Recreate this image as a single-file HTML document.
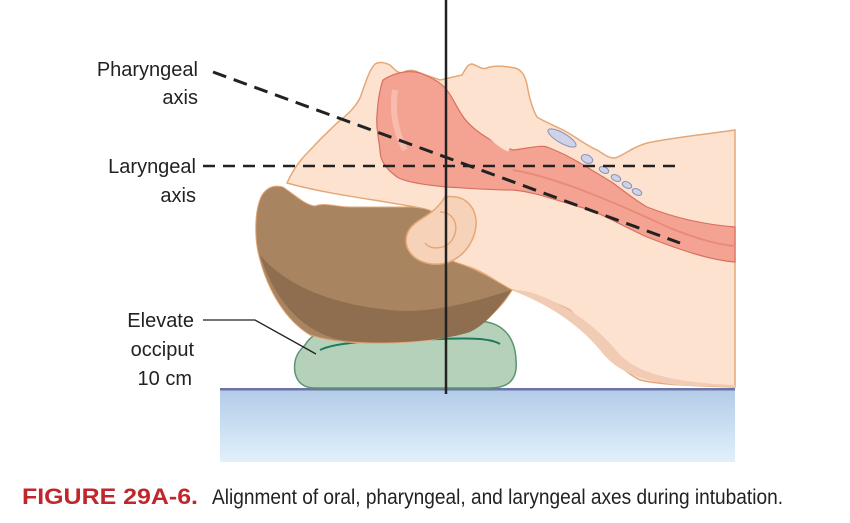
<!DOCTYPE html>
<html><head><meta charset="utf-8"><style>
html,body{margin:0;padding:0;background:#fff;width:850px;height:523px;overflow:hidden}
svg{display:block}
text{font-family:"Liberation Sans",sans-serif}
</style></head><body>
<svg width="850" height="523" viewBox="0 0 850 523" xmlns="http://www.w3.org/2000/svg">
<defs>
<linearGradient id="tb" x1="0" y1="0" x2="0" y2="1"><stop offset="0" stop-color="#b2cbe8"/><stop offset="1" stop-color="#e0f1fb"/></linearGradient>
</defs>
<!-- table -->
<rect x="220" y="389" width="515" height="73" fill="url(#tb)"/>
<rect x="220" y="388" width="515" height="2.5" fill="#6b72a8"/>
<!-- body / skin -->
<path d="M287,183 C295,165 305,155 313,147 C322,137 330,130 337,123 C347,115 355,108 360,98 C365,85 368,72 375,64 C380,61 386,63 390,65 C395,70 398,73 402,73 C407,70 412,69 420,73 L440,80 L462,75 C466,68 468,64 472,64 C478,66 482,70 487,68 C495,65 505,66 515,68 C522,70 526,76 528,90 C530,100 533,110 537,117 C545,122 555,126 563,130 C575,136 585,145 597,150 C605,155 608,158 615,158 C625,155 630,148 647,143 C670,138 700,135 735,130 L735,387 C700,386 660,385 640,380 C610,365 590,330 570,310 C545,297 520,292 505,288 C490,275 470,265 450,262 C440,230 430,212 420,208 C380,200 330,195 287,183 Z" fill="#fde3cf" stroke="#e4a878" stroke-width="1.5"/>
<path d="M505,288 C540,300 575,320 600,350 C615,370 640,383 690,386 L735,387 L735,385 C680,383 640,375 620,355 C600,330 570,305 530,292 Z" fill="#f1cbb3"/>
<!-- pillow -->
<path d="M305,345 C315,328 340,323 380,325 L470,322 C500,318 515,335 516,360 C518,380 508,388 490,388 L315,388 C298,388 293,375 295,362 C296,355 300,350 305,345 Z" fill="#b6d1b9" stroke="#5a9470" stroke-width="1.5"/>
<path d="M320,350 C340,340 400,340 440,339 C470,338 490,338 500,344" fill="none" stroke="#1f7a5f" stroke-width="2"/>
<!-- hair -->
<path d="M262,195 C268,186 276,185 283,187 C295,195 305,205 315,206 C325,202 335,207 350,207 C370,207 395,207 413,207 C425,208 432,210 437,215 C440,240 445,258 455,262 C475,268 495,280 512,290 C498,315 470,335 430,340 C390,345 340,345 310,335 C285,320 268,290 260,260 C254,240 254,210 262,195 Z" fill="#a98461" stroke="#e4a878" stroke-width="1"/>
<path d="M260,255 C275,300 300,330 340,340 C380,345 440,342 470,332 C490,322 500,305 512,290 C480,300 430,315 390,310 C340,305 290,290 260,255 Z" fill="#8e6e4e"/>
<!-- ear -->
<path d="M445,197 C468,193 480,212 475,232 C470,250 455,266 432,264 C410,261 402,245 408,232 C415,218 432,218 445,197 Z" fill="#f6d2b8" stroke="#e4a878" stroke-width="1.5"/>
<path d="M440,212 C455,212 460,228 452,240 C445,250 430,250 425,243" fill="none" stroke="#e4a878" stroke-width="1.5"/>
<!-- airway -->
<path d="M383,80 C395,72 410,70 420,73 C432,78 440,82 445,88 C452,95 455,105 462,115 C470,128 490,142 513,150 C530,148 540,145 547,147 C560,152 570,157 580,163 C595,172 605,178 613,183 C625,192 635,200 647,207 C680,220 710,225 735,227 L735,262 C710,260 680,250 647,237 C620,225 600,212 580,207 C555,200 535,192 513,190 C490,190 465,188 447,187 C425,185 405,182 397,177 C385,168 380,160 380,150 C378,135 376,125 377,115 C378,100 380,88 383,80 Z" fill="#f4a392" stroke="#d9705f" stroke-width="1.2"/>
<path d="M467,83 C470,100 480,120 490,132 C498,140 505,145 510,147" fill="none" stroke="#fde3cf" stroke-width="10"/>
<path d="M395,90 C392,110 395,130 405,150" fill="none" stroke="#f8bcae" stroke-width="6"/>
<path d="M513,170 C560,178 620,205 670,228 C700,240 720,245 735,246" fill="none" stroke="#e88b7a" stroke-width="2"/>
<!-- cartilage ovals -->
<ellipse cx="562" cy="138" rx="16" ry="5" transform="rotate(30 562 138)" fill="#cfd3e8" stroke="#8a90b8"/>
<ellipse cx="587" cy="159" rx="6" ry="4" transform="rotate(25 587 159)" fill="#cfd3e8" stroke="#8a90b8"/>
<ellipse cx="604" cy="170" rx="5" ry="3" transform="rotate(25 604 170)" fill="#cfd3e8" stroke="#8a90b8"/>
<ellipse cx="616" cy="178" rx="5" ry="3" transform="rotate(25 616 178)" fill="#cfd3e8" stroke="#8a90b8"/>
<ellipse cx="627" cy="185" rx="5" ry="3" transform="rotate(25 627 185)" fill="#cfd3e8" stroke="#8a90b8"/>
<ellipse cx="637" cy="192" rx="5" ry="3" transform="rotate(25 637 192)" fill="#cfd3e8" stroke="#8a90b8"/>
<!-- axes -->
<line x1="213" y1="72" x2="680" y2="243" stroke="#222" stroke-width="3" stroke-dasharray="14,8"/>
<line x1="203" y1="166" x2="680" y2="166" stroke="#222" stroke-width="2.5" stroke-dasharray="12,8"/>
<line x1="446" y1="0" x2="446" y2="394" stroke="#222" stroke-width="2.5"/>
<polyline points="203,320 255,320 316,354" fill="none" stroke="#222" stroke-width="1.3"/>
<!-- labels -->
<g font-size="20" fill="#222" text-anchor="end">
<text x="198" y="76">Pharyngeal</text>
<text x="198" y="104">axis</text>
<text x="196" y="173">Laryngeal</text>
<text x="196" y="202">axis</text>
<text x="194" y="327">Elevate</text>
<text x="194" y="356">occiput</text>
<text x="192" y="385">10 cm</text>
</g>
<text x="22" y="504" font-size="22" font-weight="bold" fill="#c0272d" textLength="176" lengthAdjust="spacingAndGlyphs">FIGURE 29A-6.</text>
<text x="212" y="504" font-size="21" fill="#222" textLength="571" lengthAdjust="spacingAndGlyphs">Alignment of oral, pharyngeal, and laryngeal axes during intubation.</text>
</svg>
</body></html>
